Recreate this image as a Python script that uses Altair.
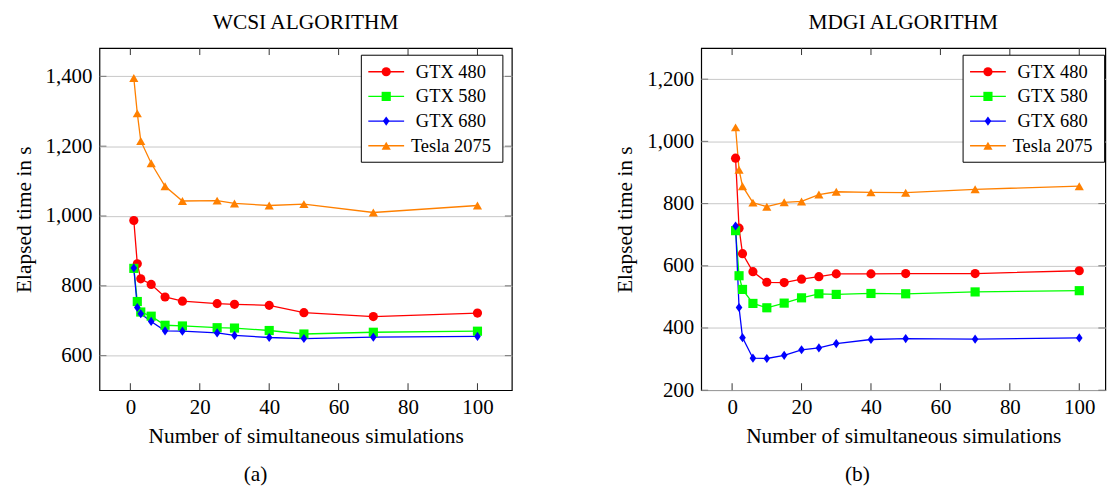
import altair as alt
import pandas as pd

FONT = "Liberation Serif"

series = ["GTX 480", "GTX 580", "GTX 680", "Tesla 2075"]
colors = ["#ff0000", "#00ff00", "#0000ff", "#ff8000"]
shapes = ["circle", "square", "M0,-1L0.72,0L0,1L-0.72,0Z", "triangle-up"]

x_ticks = [0, 20, 40, 60, 80, 100]

# WCSI algorithm (a)
wcsi_x = [1, 2, 3, 6, 10, 15, 25, 30, 40, 50, 70, 100]
wcsi_gtx480 = [987, 863, 820, 804, 768, 756, 749, 747, 744, 723, 712, 722]
wcsi_gtx580 = [850, 755, 725, 713, 687, 685, 680, 679, 672, 662, 667, 670]
wcsi_gtx680 = [851, 738, 720, 698, 671, 670, 665, 658, 652, 649, 653, 655]
wcsi_tesla = [1395, 1294, 1215, 1151, 1085, 1043, 1044, 1036, 1030, 1034, 1010, 1030]
wcsi_yticks = [600, 800, 1000, 1200, 1400]

# MDGI algorithm (b)
mdgi_x = [1, 2, 3, 6, 10, 15, 20, 25, 30, 40, 50, 70, 100]
mdgi_gtx480 = [946, 721, 639, 581, 547, 546, 557, 565, 574, 574, 575, 575, 584]
mdgi_gtx580 = [713, 568, 524, 479, 465, 480, 497, 510, 508, 511, 510, 516, 520]
mdgi_gtx680 = [728, 466, 369, 303, 302, 312, 330, 336, 350, 363, 366, 364, 368]
mdgi_tesla = [1045, 909, 856, 803, 790, 804, 807, 829, 838, 836, 835, 846, 856]
mdgi_yticks = [200, 400, 600, 800, 1000, 1200]

H = 344
TICK_FS = 21
TITLE_FS = 21.5
LEG_FS = 18.5


def long_df(xs, cols):
    rows = []
    for name, vals in zip(series, cols):
        for xv, yv in zip(xs, vals):
            rows.append({"x": xv, "time": yv, "series": name})
    return pd.DataFrame(rows)


def panel(df, xdom, ydom, yticks, width, title, caption, caption_x):
    xs = alt.Scale(domain=xdom, nice=False, zero=False)
    ys = alt.Scale(domain=ydom, nice=False, zero=False)
    xaxis = alt.Axis(values=x_ticks, title="Number of simultaneous simulations",
                     ticks=False, domain=False, grid=False, labelPadding=6,
                     titlePadding=9, labelFlush=False, format="d")
    yaxis = alt.Axis(values=yticks, format=",d", title="Elapsed time in s",
                     ticks=False, domain=False, grid=True, gridColor="#c8c8c8",
                     gridWidth=1, labelPadding=7.5, titlePadding=10)
    X = alt.X("x:Q", scale=xs, axis=xaxis)
    Y = alt.Y("time:Q", scale=ys, axis=yaxis)
    color = alt.Color("series:N", scale=alt.Scale(domain=series, range=colors), legend=None)
    shape = alt.Shape("series:N", scale=alt.Scale(domain=series, range=shapes), legend=None)

    lines = alt.Chart(df).mark_line(strokeWidth=1.3).encode(X, Y, color)
    pts = alt.Chart(df).mark_point(filled=True, opacity=1, size=85).encode(X, Y, color, shape)

    xt = pd.DataFrame({"x": x_ticks})
    xtick_b = alt.Chart(xt).mark_rule(color="#333", strokeWidth=1).encode(
        x=X, y=alt.value(H), y2=alt.value(H - 7))
    xtick_t = alt.Chart(xt).mark_rule(color="#333", strokeWidth=1).encode(
        x=X, y=alt.value(0), y2=alt.value(7))
    yt = pd.DataFrame({"time": yticks})
    ytick_l = alt.Chart(yt).mark_rule(color="#777", strokeWidth=1).encode(
        y=Y, x=alt.value(0), x2=alt.value(7))
    ytick_r = alt.Chart(yt).mark_rule(color="#777", strokeWidth=1).encode(
        y=Y, x=alt.value(width - 7), x2=alt.value(width))

    leg = alt.Chart(pd.DataFrame({"series": series, "rank": [0, 1, 2, 3]})).transform_calculate(
        py="23.8 + 24.8 * datum.rank")
    PY = alt.Y("py:Q", scale=None, axis=None)
    box = alt.Chart(pd.DataFrame({"k": [0]})).mark_rect(
        fill="white", stroke="black", strokeWidth=1).encode(
        x=alt.value(263.3), x2=alt.value(405.6), y=alt.value(7.2), y2=alt.value(114.8))
    leg_line = leg.mark_rule(strokeWidth=1.3).encode(
        x=alt.value(270.3), x2=alt.value(306.3), y=PY, color=color)
    leg_pt = leg.mark_point(filled=True, opacity=1, size=85).encode(
        x=alt.value(288.3), y=PY, color=color, shape=shape)
    leg_txt = leg.mark_text(font=FONT, fontSize=LEG_FS, align="center", baseline="middle",
                            color="black").encode(x=alt.value(353.3), y=PY, text="series:N")

    cap = alt.Chart(pd.DataFrame({"cap": [caption]})).mark_text(
        font=FONT, fontSize=TITLE_FS, align="center", baseline="middle", color="black").encode(
        x=alt.value(caption_x), y=alt.value(H + 85), text="cap:N")

    return alt.layer(lines, pts, xtick_b, xtick_t, ytick_l, ytick_r,
                     box, leg_line, leg_pt, leg_txt, cap).properties(
        width=width, height=H,
        title=alt.TitleParams(text=title, font=FONT, fontSize=TITLE_FS, fontWeight="normal",
                              anchor="middle", frame="group", offset=14, color="black"))


left = panel(long_df(wcsi_x, [wcsi_gtx480, wcsi_gtx580, wcsi_gtx680, wcsi_tesla]),
             [-8.9, 109.9], [501, 1481], wcsi_yticks, 414.6,
             "WCSI ALGORITHM", "(a)", 157)
right = panel(long_df(mdgi_x, [mdgi_gtx480, mdgi_gtx580, mdgi_gtx680, mdgi_tesla]),
              [-8.9, 107.5], [200, 1300], mdgi_yticks, 406.3,
              "MDGI ALGORITHM", "(b)", 157)

chart = alt.hconcat(left, right, spacing=101).properties(
    padding={"left": 12, "top": 10, "right": 1, "bottom": 0},
    background="white",
).configure_view(stroke="black", strokeWidth=1.2).configure_axis(
    labelFont=FONT, titleFont=FONT, labelFontSize=TICK_FS, titleFontSize=TITLE_FS,
    labelColor="black", titleColor="black", titleFontWeight="normal")

chart.save("out.html", embed_options={"renderer": "svg", "actions": False})
